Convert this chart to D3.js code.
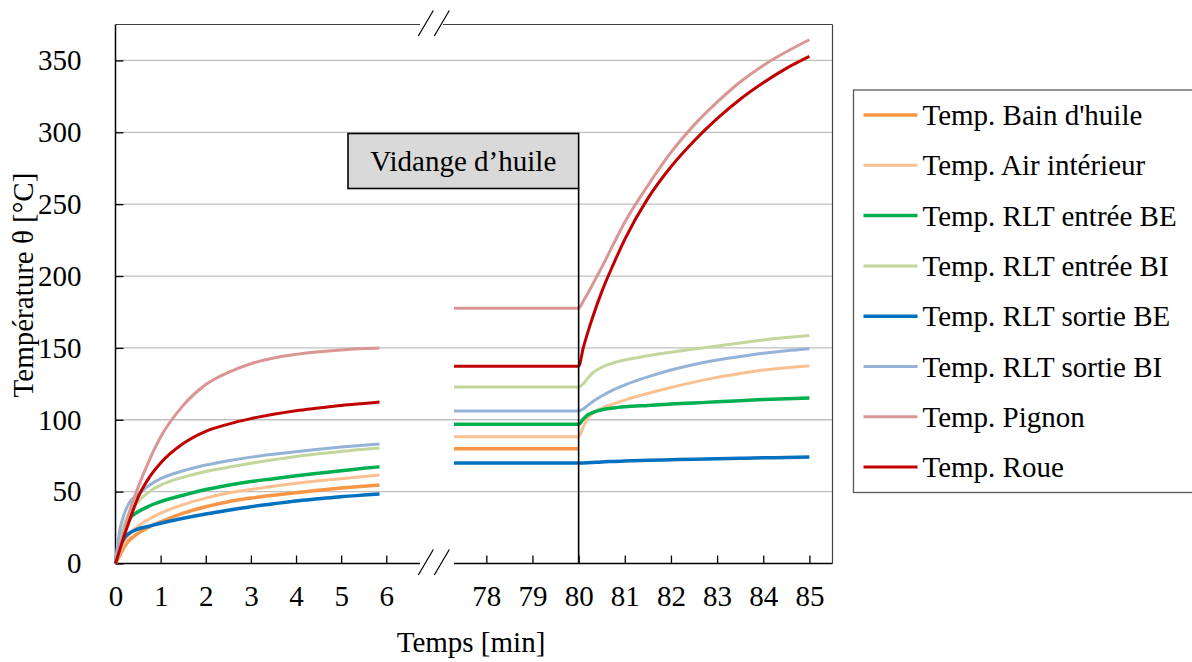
<!DOCTYPE html>
<html>
<head>
<meta charset="utf-8">
<script src="https://cdn.jsdelivr.net/npm/d3@7"></script>
<style>
  body { margin: 0; background: #ffffff; }
  svg text { font-family: "Liberation Serif", "Times New Roman", serif; fill: #000000; }
</style>
</head>
<body>
<svg id="tempChart" width="1192" height="662"></svg>
<script>
/* Series names (legend order = drawing order) */
let seriesNames = [
    "Temp. Bain d'huile",
    "Temp. Air intérieur",
    "Temp. RLT entrée BE",
    "Temp. RLT entrée BI",
    "Temp. RLT sortie BE",
    "Temp. RLT sortie BI",
    "Temp. Pignon",
    "Temp. Roue"
];
let seriesColors = ["#f79646", "#fac090", "#00b050", "#c3d69b", "#0070c0", "#95b3d7", "#d99694", "#c00000"];
let seriesWidths = [3.5, 3, 3.5, 3, 3.5, 3, 3, 3];

/* Time in minutes, first part of the test (0 - 6 min) */
let timeLeft = [0, 0.05, 0.1, 0.2, 0.3, 0.5, 0.75, 1, 1.5, 2, 2.5, 3, 3.5, 4, 4.5, 5, 5.5, 5.85];
let bainLeft = [0, 3, 6, 12, 16, 21, 25.5, 29, 35, 39.5, 43, 45.5, 47.5, 49.3, 51, 52.5, 53.8, 54.5];
let airLeft = [0, 4, 8, 15, 20, 26, 31, 35, 41, 45.5, 49, 51.5, 53.8, 55.8, 57.5, 59, 60.5, 61.5];
let entreeBELeft = [0, 10, 17, 26, 31, 36, 40, 43, 47.5, 51.5, 54.5, 57, 59, 61, 62.8, 64.5, 66.2, 67.3];
let entreeBILeft = [0, 8, 16, 28, 35, 43, 50, 54.5, 60, 64, 67, 69.8, 72.2, 74.5, 76.3, 78, 79.5, 80.3];
let sortieBELeft = [0, 7, 12, 18, 21, 24, 26, 28, 31.5, 34.5, 37, 39.5, 41.5, 43.5, 45, 46.5, 47.6, 48.3];
let sortieBILeft = [0, 14, 24, 35, 42, 48, 54.5, 59, 64.5, 68.5, 71.5, 74, 76, 77.8, 79.5, 81, 82.3, 83.1];
let pignonLeft = [0, 6, 12, 24, 35, 53, 72, 88, 110, 124.5, 133, 139, 143, 145.5, 147.3, 148.6, 149.6, 150];
let roueLeft = [0, 5, 10, 20, 29, 46, 60, 70, 83.5, 92, 97, 100.8, 103.8, 106.3, 108.2, 110, 111.4, 112.3];

/* Time in minutes, second part (oil drain at 80 min) */
let timeRight = [77.3, 78, 79, 80, 80.1, 80.2, 80.3, 80.5, 80.75, 81, 81.5, 82, 82.5, 83, 83.5, 84, 84.5, 85];
let bainRight = [79.8, 79.8, 79.8, 79.8, null, null, null, null, null, null, null, null, null, null, null, null, null, null];
let airRight = [88.2, 88.2, 88.2, 88.2, 95, 101, 104.5, 108, 111, 113.7, 118.3, 122.5, 126.2, 129.5, 132.2, 134.6, 136.2, 137.6];
let entreeBERight = [96.8, 96.8, 96.8, 96.8, 100.5, 103.5, 105, 107, 108.2, 109, 110, 110.9, 111.7, 112.5, 113.3, 114.1, 114.7, 115.2];
let entreeBIRight = [122.8, 122.8, 122.8, 122.8, 125, 129, 132.5, 136.5, 139.5, 141.6, 144.5, 147, 149.2, 151.3, 153.4, 155.5, 157.2, 158.7];
let sortieBERight = [70, 70, 70, 70, 70, 70.1, 70.3, 70.7, 71, 71.3, 71.8, 72.2, 72.6, 72.9, 73.2, 73.5, 73.8, 74.1];
let sortieBIRight = [106.1, 106.1, 106.1, 106.1, 107.5, 110, 112.5, 116.5, 120.8, 124.2, 129.8, 134.6, 138.5, 141.6, 144, 146.2, 148, 149.4];
let pignonRight = [177.6, 177.6, 177.6, 177.6, 182.5, 188, 194, 206, 222, 237.5, 263, 286, 305, 321, 335, 346.5, 356, 364.4];
let roueRight = [137.2, 137.2, 137.2, 137.2, 150, 161, 171, 189, 208, 225.5, 254, 276, 294, 309.5, 323, 334.5, 344.5, 352.8];

/* Tick labels */
let leftTicks = [0, 1, 2, 3, 4, 5, 6];
let rightTicks = [78, 79, 80, 81, 82, 83, 84, 85];
let yTicks = [0, 50, 100, 150, 200, 250, 300, 350];
let drainTime = 80;

let leftSeries = [bainLeft, airLeft, entreeBELeft, entreeBILeft, sortieBELeft, sortieBILeft, pignonLeft, roueLeft];
let rightSeries = [bainRight, airRight, entreeBERight, entreeBIRight, sortieBERight, sortieBIRight, pignonRight, roueRight];

let svg = d3.select("svg#tempChart");

/* Plot area geometry */
let plot = { left: 115.5, right: 832.5, top: 24.5, bottom: 563.5, breakX: 454 };

let yScale = d3.scaleLinear().domain([0, 375]).range([plot.bottom, plot.top]);
let xLeft = d3.scaleLinear().domain([0, 7.5]).range([plot.left, plot.breakX]);
let xRight = d3.scaleLinear().domain([77.3, 85.5]).range([plot.breakX, plot.right]);

/* Horizontal gridlines */
svg.append("g").selectAll("line")
    .data(yTicks.filter(d => d > 0))
    .join("line")
    .attr("x1", plot.left)
    .attr("x2", plot.right)
    .attr("y1", d => yScale(d))
    .attr("y2", d => yScale(d))
    .attr("stroke", "#bfbfbf")
    .attr("stroke-width", 1.3);

/* Plot frame: top (broken) and right */
svg.append("line").attr("x1", plot.left).attr("x2", 420).attr("y1", plot.top).attr("y2", plot.top)
    .attr("stroke", "#404040").attr("stroke-width", 1.2);
svg.append("line").attr("x1", 443).attr("x2", plot.right).attr("y1", plot.top).attr("y2", plot.top)
    .attr("stroke", "#404040").attr("stroke-width", 1.2);
svg.append("line").attr("x1", plot.right).attr("x2", plot.right).attr("y1", plot.top).attr("y2", plot.bottom)
    .attr("stroke", "#404040").attr("stroke-width", 1.2);

/* Y axis */
let yAxis = d3.axisLeft(yScale)
    .tickValues(yTicks)
    .tickSizeInner(-8)
    .tickSizeOuter(0)
    .tickPadding(34);
let yAxisG = svg.append("g")
    .attr("transform", "translate(" + plot.left + ",0)")
    .call(yAxis);
yAxisG.select("path.domain").remove();
yAxisG.selectAll(".tick line").attr("stroke", "#000000").attr("stroke-width", 1.3);
yAxisG.selectAll(".tick text")
    .style("font-size", "29px")
    .style("font-family", "'Liberation Serif', serif");
svg.append("line").attr("x1", plot.left).attr("x2", plot.left).attr("y1", plot.top).attr("y2", plot.bottom)
    .attr("stroke", "#000000").attr("stroke-width", 1.5);

/* X axes (left and right part) */
function drawXAxis(scale, ticks, x1, x2) {
    let axis = d3.axisBottom(scale)
        .tickValues(ticks)
        .tickSizeInner(-8)
        .tickSizeOuter(0)
        .tickPadding(22)
        .tickFormat(d3.format("d"));
    let g = svg.append("g")
        .attr("transform", "translate(0," + plot.bottom + ")")
        .call(axis);
    g.select("path.domain").remove();
    g.selectAll(".tick line").attr("stroke", "#000000").attr("stroke-width", 1.3);
    g.selectAll(".tick text")
        .style("font-size", "29px")
        .style("font-family", "'Liberation Serif', serif");
    svg.append("line").attr("x1", x1).attr("x2", x2).attr("y1", plot.bottom).attr("y2", plot.bottom)
        .attr("stroke", "#000000").attr("stroke-width", 1.5);
    return g;
}
drawXAxis(xLeft, leftTicks, plot.left, 420);
drawXAxis(xRight, rightTicks, plot.breakX, plot.right);

/* Break marks // */
[plot.top, plot.bottom].forEach(yb => {
    [418.3, 434.3].forEach(xb => {
        svg.append("line")
            .attr("x1", xb).attr("y1", yb + 11.5)
            .attr("x2", xb + 15).attr("y2", yb - 14)
            .attr("stroke", "#000000").attr("stroke-width", 1.2);
    });
});

/* Data lines */
function drawSeries(times, values, scale, i) {
    let pts = times.map((t, k) => [t, values[k]]);
    let line = d3.line()
        .defined(d => d[1] !== null)
        .x(d => scale(d[0]))
        .y(d => yScale(d[1]))
        .curve(d3.curveMonotoneX);
    svg.append("path")
        .datum(pts)
        .attr("d", line)
        .attr("fill", "none")
        .attr("stroke", seriesColors[i])
        .attr("stroke-width", seriesWidths[i])
        .attr("stroke-linejoin", "round");
}
seriesNames.forEach((name, i) => {
    drawSeries(timeLeft, leftSeries[i], xLeft, i);
    drawSeries(timeRight, rightSeries[i], xRight, i);
});

/* Oil drain marker: box + vertical line */
let drainX = xRight(drainTime);
let boxTop = 133.5, boxBottom = 188.5, boxLeft = 348;
svg.append("line")
    .attr("x1", drainX).attr("x2", drainX)
    .attr("y1", boxBottom).attr("y2", plot.bottom)
    .attr("stroke", "#000000").attr("stroke-width", 1.6);
svg.append("rect")
    .attr("x", boxLeft).attr("y", boxTop)
    .attr("width", drainX - boxLeft).attr("height", boxBottom - boxTop)
    .attr("fill", "#d9d9d9")
    .attr("stroke", "#000000")
    .attr("stroke-width", 1.6);
svg.append("text")
    .attr("x", (boxLeft + drainX) / 2)
    .attr("y", 171)
    .attr("text-anchor", "middle")
    .style("font-size", "29px")
    .text("Vidange d’huile");

/* Axis titles */
svg.append("text")
    .attr("x", 471)
    .attr("y", 652)
    .attr("text-anchor", "middle")
    .style("font-size", "29px")
    .text("Temps [min]");
svg.append("text")
    .attr("transform", "translate(33,285)rotate(-90)")
    .attr("text-anchor", "middle")
    .style("font-size", "29px")
    .text("Température θ [°C]");

/* Legend */
let legend = svg.append("g").attr("class", "legend");
legend.append("rect")
    .attr("x", 853.5).attr("y", 90)
    .attr("width", 360).attr("height", 402.5)
    .attr("fill", "#ffffff")
    .attr("stroke", "#595959")
    .attr("stroke-width", 1.3);
seriesNames.forEach((name, i) => {
    let ly = 115 + i * 50.3;
    let item = legend.append("g").attr("transform", "translate(0," + ly + ")");
    item.append("line")
        .attr("x1", 863.5).attr("x2", 917.5)
        .attr("y1", 0).attr("y2", 0)
        .attr("stroke", seriesColors[i])
        .attr("stroke-width", seriesWidths[i]);
    item.append("text")
        .attr("x", 922.5)
        .attr("y", 10)
        .style("font-size", "29px")
        .text(name);
});
</script>
</body>
</html>
